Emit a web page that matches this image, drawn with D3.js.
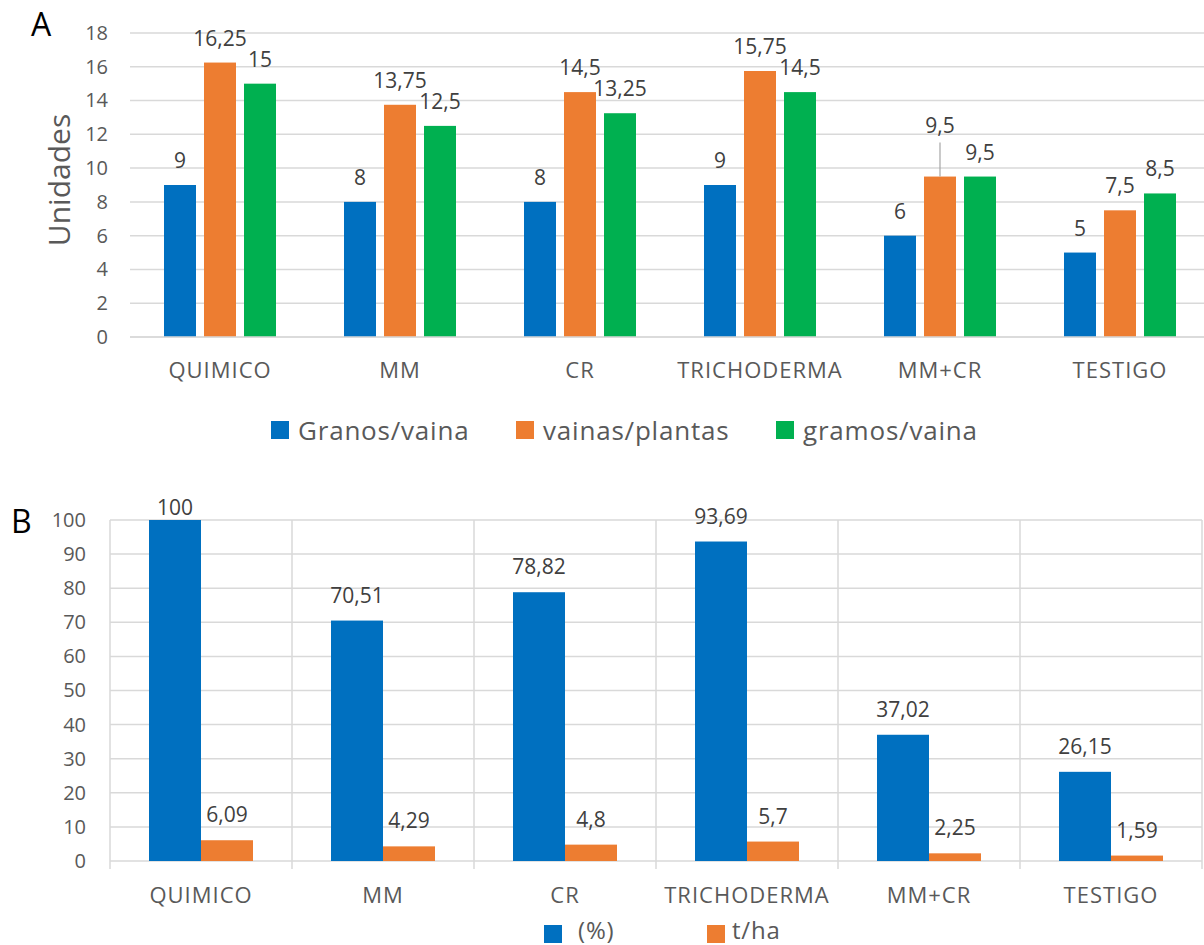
<!DOCTYPE html>
<html>
<head>
<meta charset="utf-8">
<script src="https://cdn.jsdelivr.net/npm/d3@7"></script>
<style>
  html, body { margin: 0; padding: 0; background: #fff; }
  svg { display: block; font-family: "Open Sans", "Noto Sans", sans-serif; }
</style>
</head>
<body>
<svg id="chart" width="1204" height="945"></svg>
<script>
// ---- data ----
const categories = ["QUIMICO", "MM", "CR", "TRICHODERMA", "MM+CR", "TESTIGO"];
const seriesA = ["Granos/vaina", "vainas/plantas", "gramos/vaina"];
const granosVaina = [9, 8, 8, 9, 6, 5];
const vainasPlantas = [16.25, 13.75, 14.5, 15.75, 9.5, 7.5];
const gramosVaina = [15, 12.5, 13.25, 14.5, 9.5, 8.5];
const ticksA = [0, 2, 4, 6, 8, 10, 12, 14, 16, 18];

const seriesB = ["(%)", "t/ha"];
const porcentaje = [100, 70.51, 78.82, 93.69, 37.02, 26.15];
const tHa = [6.09, 4.29, 4.8, 5.7, 2.25, 1.59];
const ticksB = [0, 10, 20, 30, 40, 50, 60, 70, 80, 90, 100];

const colors = ["#0070C0", "#ED7D31", "#00B050"];
const gridColor = "#d9d9d9";
const textColor = "#595959";
const labelColor = "#404040";
const fmt = v => String(v).replace(".", ",");

const svg = d3.select("#chart");

// ================= Panel A =================
{
  const valuesA = [granosVaina, vainasPlantas, gramosVaina];
  const x0 = d3.scaleBand().domain(categories).range([130, 1210]).paddingInner(0).paddingOuter(0);
  const x1 = d3.scaleBand().domain(seriesA).range([0, x0.bandwidth()]).paddingInner(0.2).paddingOuter(0.85);
  const y = d3.scaleLinear().domain([0, 18]).range([337, 33]);
  const g = svg.append("g");

  // gridlines
  g.selectAll("line.grid").data(ticksA).join("line")
    .attr("x1", 130).attr("x2", 1204)
    .attr("y1", d => y(d)).attr("y2", d => y(d))
    .attr("stroke", gridColor).attr("stroke-width", 1.5);

  // y axis tick labels
  const yAxis = d3.axisLeft(y).tickValues(ticksA).tickSize(0).tickPadding(0);
  const ya = g.append("g").attr("transform", "translate(108,0)").call(yAxis);
  ya.select(".domain").remove();
  ya.selectAll("text").attr("fill", textColor).attr("font-size", 20)
    .attr("font-family", "'Open Sans', sans-serif");

  // bars
  seriesA.forEach((s, si) => {
    const vals = valuesA[si];
    g.selectAll(null).data(categories).join("rect")
      .attr("x", c => x0(c) + x1(s))
      .attr("width", x1.bandwidth())
      .attr("y", (c, i) => y(vals[i]))
      .attr("height", (c, i) => y(0) - y(vals[i]))
      .attr("fill", colors[si]);
  });

  // data labels
  seriesA.forEach((s, si) => {
    const vals = valuesA[si];
    g.selectAll(null).data(categories).join("text")
      .attr("x", c => x0(c) + x1(s) + x1.bandwidth() / 2)
      .attr("y", (c, i) => {
        let ty = y(vals[i]) - 17;
        // overlapping label in MM+CR orange lifted with leader line
        if (c === "MM+CR" && si === 1) ty = y(vals[i]) - 44;
        return ty;
      })
      .attr("text-anchor", "middle")
      .attr("font-size", 21).attr("fill", labelColor)
      .text((c, i) => fmt(vals[i]));
  });
  // leader line for the lifted label
  {
    const i = categories.indexOf("MM+CR");
    const cx = x0("MM+CR") + x1(seriesA[1]) + x1.bandwidth() / 2;
    g.append("line")
      .attr("x1", cx).attr("x2", cx)
      .attr("y1", y(vainasPlantas[i]) - 34).attr("y2", y(vainasPlantas[i]))
      .attr("stroke", "#a6a6a6").attr("stroke-width", 1.2);
  }

  // x axis baseline
  g.append("line").attr("x1", 130).attr("x2", 1204)
    .attr("y1", y(0)).attr("y2", y(0)).attr("stroke", gridColor).attr("stroke-width", 1.5);

  // category labels
  const xAxis = d3.axisBottom(x0).tickSize(0).tickPadding(0);
  const xa = g.append("g").attr("transform", "translate(0,378)").call(xAxis);
  xa.select(".domain").remove();
  xa.selectAll("text").attr("fill", textColor).attr("font-size", 22)
    .attr("letter-spacing", "1px")
    .attr("font-family", "'Open Sans', sans-serif").attr("dy", "0");

  // y title
  g.append("text")
    .attr("transform", "translate(70,180) rotate(-90)")
    .attr("text-anchor", "middle")
    .attr("font-size", 30).attr("fill", textColor)
    .text("Unidades");

  // panel letter
  g.append("text").attr("x", 31).attr("y", 36).attr("font-size", 32).attr("fill", "#000").text("A");

  // legend
  const legX = [271, 516, 776];
  seriesA.forEach((s, si) => {
    g.append("rect").attr("x", legX[si]).attr("y", 421).attr("width", 18).attr("height", 18).attr("fill", colors[si]);
    g.append("text").attr("x", legX[si] + 27).attr("y", 440)
      .attr("font-size", 26).attr("letter-spacing", "0.8px").attr("fill", textColor).text(s);
  });
}

// ================= Panel B =================
{
  const valuesB = [porcentaje, tHa];
  const x0 = d3.scaleBand().domain(categories).range([110, 1202]).paddingInner(0).paddingOuter(0);
  const x1 = d3.scaleBand().domain(seriesB).range([0, x0.bandwidth()]).paddingInner(0).paddingOuter(0.75);
  const y = d3.scaleLinear().domain([0, 100]).range([861, 520]);
  const g = svg.append("g");

  // horizontal gridlines
  g.selectAll(null).data(ticksB).join("line")
    .attr("x1", 110).attr("x2", 1202)
    .attr("y1", d => y(d)).attr("y2", d => y(d))
    .attr("stroke", gridColor).attr("stroke-width", 1.5);

  // vertical gridlines at category boundaries (extend below as ticks)
  const bounds = categories.map(c => x0(c)).concat([x0(categories[categories.length - 1]) + x0.bandwidth()]);
  g.selectAll(null).data(bounds).join("line")
    .attr("x1", d => d).attr("x2", d => d)
    .attr("y1", y(100)).attr("y2", y(0) + 8)
    .attr("stroke", gridColor).attr("stroke-width", 1.5);

  // y axis tick labels
  const yAxis = d3.axisLeft(y).tickValues(ticksB).tickSize(0).tickPadding(0);
  const ya = g.append("g").attr("transform", "translate(86,0)").call(yAxis);
  ya.select(".domain").remove();
  ya.selectAll("text").attr("fill", textColor).attr("font-size", 20)
    .attr("font-family", "'Open Sans', sans-serif");

  // bars
  seriesB.forEach((s, si) => {
    const vals = valuesB[si];
    g.selectAll(null).data(categories).join("rect")
      .attr("x", c => x0(c) + x1(s))
      .attr("width", x1.bandwidth())
      .attr("y", (c, i) => y(vals[i]))
      .attr("height", (c, i) => y(0) - y(vals[i]))
      .attr("fill", colors[si]);
  });

  // data labels
  seriesB.forEach((s, si) => {
    const vals = valuesB[si];
    g.selectAll(null).data(categories).join("text")
      .attr("x", c => x0(c) + x1(s) + x1.bandwidth() / 2)
      .attr("y", (c, i) => Math.max(y(vals[i]) - 18, 515))
      .attr("text-anchor", "middle")
      .attr("font-size", 21).attr("fill", labelColor)
      .text((c, i) => fmt(vals[i]));
  });

  // category labels
  const xAxis = d3.axisBottom(x0).tickSize(0).tickPadding(0);
  const xa = g.append("g").attr("transform", "translate(0,903)").call(xAxis);
  xa.select(".domain").remove();
  xa.selectAll("text").attr("fill", textColor).attr("font-size", 22)
    .attr("letter-spacing", "1px")
    .attr("font-family", "'Open Sans', sans-serif").attr("dy", "0");

  // panel letter
  g.append("text").attr("x", 11).attr("y", 533).attr("font-size", 32).attr("fill", "#000").text("B");

  // legend
  const legX = [544, 707];
  const legTextX = [578, 732];
  seriesB.forEach((s, si) => {
    g.append("rect").attr("x", legX[si]).attr("y", 925).attr("width", 18).attr("height", 18).attr("fill", colors[si]);
    g.append("text").attr("x", legTextX[si]).attr("y", 939)
      .attr("font-size", 24).attr("letter-spacing", "0.8px").attr("fill", textColor).text(s);
  });
}
</script>
</body>
</html>
